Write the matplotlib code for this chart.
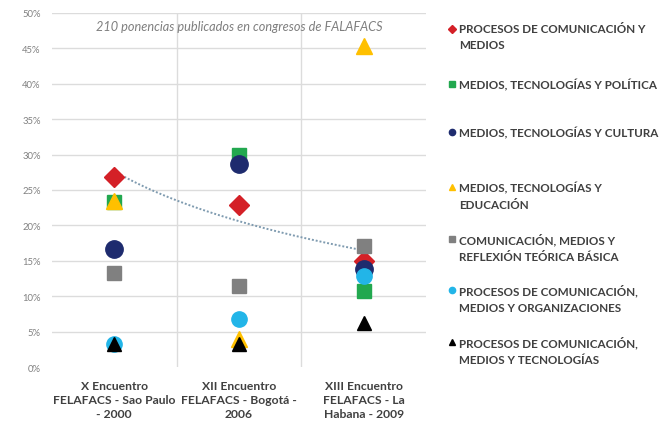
import numpy as np
import matplotlib
matplotlib.use("Agg")
import matplotlib.pyplot as plt
from matplotlib.lines import Line2D

categories = ["X Encuentro\nFELAFACS - Sao Paulo\n- 2000",
              "XII Encuentro\nFELAFACS - Bogotá -\n2006",
              "XIII Encuentro\nFELAFACS - La\nHabana - 2009"]

proc_com_medios = [26.8, 22.9, 15.0]
med_tec_politica = [23.3, 30.0, 10.8]
med_tec_cultura = [16.7, 28.7, 13.8]
med_tec_educacion = [23.4, 4.0, 45.3]
com_med_reflexion = [13.3, 11.4, 17.1]
proc_com_organiz = [3.3, 6.8, 12.8]
proc_com_tecnol = [3.2, 3.3, 6.2]

labels = ["PROCESOS DE COMUNICACIÓN Y\nMEDIOS",
          "MEDIOS, TECNOLOGÍAS Y POLÍTICA",
          "MEDIOS, TECNOLOGÍAS Y CULTURA",
          "MEDIOS, TECNOLOGÍAS Y\nEDUCACIÓN",
          "COMUNICACIÓN, MEDIOS Y\nREFLEXIÓN TEÓRICA BÁSICA",
          "PROCESOS DE COMUNICACIÓN,\nMEDIOS Y ORGANIZACIONES",
          "PROCESOS DE COMUNICACIÓN,\nMEDIOS Y TECNOLOGÍAS"]

series = [proc_com_medios, med_tec_politica, med_tec_cultura, med_tec_educacion,
          com_med_reflexion, proc_com_organiz, proc_com_tecnol]
colors = ["#D42027", "#22A84F", "#1E2B6E", "#FFC000", "#808080", "#22B5E8", "#000000"]
markers = ["D", "s", "o", "^", "s", "o", "^"]
sizes = [10.5, 10.5, 12.5, 11.5, 10.5, 11, 9.5]

plt.rcParams["font.family"] = ["Lato", "DejaVu Sans"]

fig = plt.figure(figsize=(6.64, 4.31), dpi=100)
ax = fig.add_axes([0.078, 0.146, 0.564, 0.822])

x = np.arange(1, 4)
for vals, c, m, s in zip(series, colors, markers, sizes):
    ax.plot(x, vals, linestyle="none", marker=m, color=c, markersize=s, zorder=3)

# logarithmic trend line for the first series
b, a = np.polyfit(np.log(x), proc_com_medios, 1)
xt = np.linspace(1, 3, 100)
ax.plot(xt, a + b * np.log(xt), linestyle=(0, (1, 1)), color="#7F9BB0", linewidth=1.4, zorder=2)

ax.set_xlim(0.5, 3.5)
ax.set_ylim(0, 50)
ax.set_yticks(np.arange(0, 51, 5))
ax.set_yticklabels([f"{v}%" for v in range(0, 51, 5)])
ax.set_xticks(x)
ax.set_xticklabels(categories, fontsize=8.7, fontweight="bold", color="#404040", linespacing=1.35)
ax.tick_params(axis="y", labelsize=6.8, colors="#808080", length=0, pad=8)
ax.tick_params(axis="x", length=0, pad=9)

for yv in range(5, 51, 5):
    ax.axhline(yv, color="#DCDCDC", linewidth=1, zorder=0)
for xv in [1.5, 2.5]:
    ax.axvline(xv, color="#DCDCDC", linewidth=1, zorder=0)
for sp in ax.spines.values():
    sp.set_visible(False)

ax.text(0.5, 0.962, "210 ponencias publicados en congresos de FALAFACS",
        transform=ax.transAxes, ha="center", va="center",
        fontsize=9.2, style="italic", color="#7F7F7F")

# legend on the right
leg_y = [30, 85, 133, 188, 240, 291, 343]
for lab, c, m, yp in zip(labels, colors, markers, leg_y):
    yf = 1 - yp / 431
    fig.add_artist(Line2D([452 / 664], [yf], marker=m, color=c, markersize=4.5,
                          linestyle="none", transform=fig.transFigure))
    fig.text(459 / 664, yf + 0.014, lab, ha="left", va="top", fontsize=8.4,
             fontweight="bold", color="#404040", linespacing=1.6)

fig.savefig("out.png", dpi=100)
